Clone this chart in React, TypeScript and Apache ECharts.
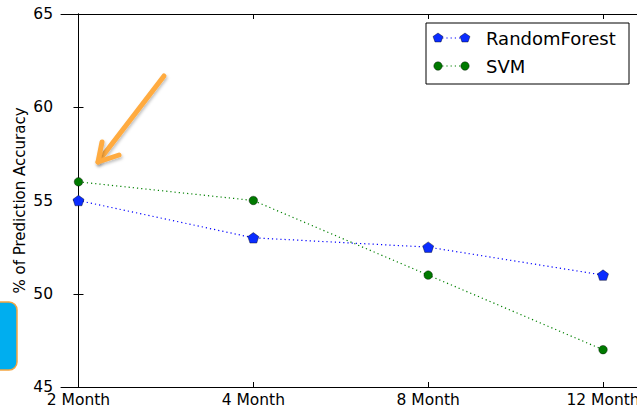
import React, { useEffect, useRef } from "react";
import * as echarts from "echarts";

const categories = ["2 Month", "4 Month", "8 Month", "12 Month"];
const randomForest = [55, 53, 52.5, 51];
const svm = [56, 55, 51, 47];

const FONT = "DejaVu Sans";
const PENT = "path://M0,-1 L0.951,-0.309 L0.588,0.809 L-0.588,0.809 L-0.951,-0.309 Z";

export default function App() {
  const ref = useRef<HTMLDivElement>(null);
  useEffect(() => {
    document.body.style.margin = "0";
    const chart = echarts.init(ref.current!, null, { renderer: "svg" });
    const idx = categories.map((_, i) => i);
    const xCommon = {
      type: "value" as const,
      min: -0.1,
      max: 3.2,
      splitLine: { show: false },
      axisLine: { show: true, lineStyle: { color: "#000", width: 1 } },
      axisTick: { show: true, inside: true, length: 5, customValues: idx, lineStyle: { color: "#000" } },
    };
    const yCommon = {
      type: "value" as const,
      min: 45,
      max: 65,
      interval: 5,
      splitLine: { show: false },
      axisLine: { show: true, lineStyle: { color: "#000", width: 1 } },
      axisTick: { show: true, inside: true, length: 5, lineStyle: { color: "#000" } },
    };
    chart.setOption({
      animation: false,
      backgroundColor: "#fff",
      textStyle: { fontFamily: FONT },
      grid: { left: 61, top: 14, width: 577, height: 373, containLabel: false, outerBoundsMode: "none" },
      xAxis: [
        {
          ...xCommon,
          position: "bottom",
          axisLabel: {
            show: true,
            customValues: idx,
            formatter: (v: number) => categories[Math.round(v)] ?? "",
            color: "#000",
            fontSize: 15.5,
            fontFamily: FONT,
            margin: 5,
          },
        },
        { ...xCommon, position: "top", axisLabel: { show: false } },
      ],
      yAxis: [
        {
          ...yCommon,
          position: "left",
          name: "% of Prediction Accuracy",
          nameLocation: "middle",
          nameGap: 34,
          nameMoveOverlap: false,
          nameRotate: 90,
          nameTextStyle: { color: "#000", fontSize: 15, fontFamily: FONT },
          axisLabel: { color: "#000", fontSize: 15.5, fontFamily: FONT, margin: 8 },
        },
        { ...yCommon, position: "right", axisLabel: { show: false } },
      ],
      series: [
        {
          name: "RandomForest",
          type: "line",
          data: randomForest.map((v, i) => [i, v]),
          symbol: PENT,
          symbolSize: [11, 10.5],
          lineStyle: { color: "#0000ff", width: 1.2, type: [1.2, 3] },
          itemStyle: { color: "#0a2cff", borderColor: "#000", borderWidth: 0.4 },
          z: 3,
        },
        {
          name: "SVM",
          type: "line",
          data: svm.map((v, i) => [i, v]),
          symbol: "circle",
          symbolSize: 8.5,
          lineStyle: { color: "#008000", width: 1.2, type: [1.2, 3] },
          itemStyle: { color: "#007a00", borderColor: "#000", borderWidth: 0.4 },
          z: 3,
        },
      ],
      graphic: [
        {
          type: "rect",
          shape: { x: 426, y: 23, width: 203, height: 61 },
          style: { fill: "#fff", stroke: "#000", lineWidth: 1 },
          z: 10,
        },
        {
          type: "line",
          shape: { x1: 438, y1: 38, x2: 465, y2: 38 },
          style: { stroke: "#0000ff", lineWidth: 1.2, lineDash: [1.2, 3] },
          z: 11,
        },
        {
          type: "polygon",
          shape: { points: [[438, 33], [443, 36.5], [441, 42], [435, 42], [433, 36.5]] },
          style: { fill: "#0a2cff", stroke: "#000", lineWidth: 0.4 },
          z: 12,
        },
        {
          type: "polygon",
          shape: { points: [[465, 33], [470, 36.5], [468, 42], [462, 42], [460, 36.5]] },
          style: { fill: "#0a2cff", stroke: "#000", lineWidth: 0.4 },
          z: 12,
        },
        {
          type: "text",
          style: { text: "RandomForest", x: 486, y: 38, fill: "#000", font: `18px '${FONT}'`, textVerticalAlign: "middle" },
          z: 12,
        },
        {
          type: "line",
          shape: { x1: 438, y1: 66, x2: 465, y2: 66 },
          style: { stroke: "#008000", lineWidth: 1.2, lineDash: [1.2, 3] },
          z: 11,
        },
        { type: "circle", shape: { cx: 438, cy: 66, r: 4.2 }, style: { fill: "#007a00", stroke: "#000", lineWidth: 0.4 }, z: 12 },
        { type: "circle", shape: { cx: 465, cy: 66, r: 4.2 }, style: { fill: "#007a00", stroke: "#000", lineWidth: 0.4 }, z: 12 },
        {
          type: "text",
          style: { text: "SVM", x: 486, y: 66, fill: "#000", font: `18px '${FONT}'`, textVerticalAlign: "middle" },
          z: 12,
        },
        {
          type: "polyline",
          shape: { points: [[164, 76], [98, 162]] },
          style: {
            stroke: "#FFAB40", lineWidth: 5, lineCap: "round", lineJoin: "round", fill: null,
            shadowBlur: 3, shadowColor: "rgba(0,0,0,0.25)", shadowOffsetX: 1, shadowOffsetY: 2,
          },
          z: 20,
        },
        {
          type: "polyline",
          shape: { points: [[102, 142], [98, 162], [119, 155]] },
          style: {
            stroke: "#FFAB40", lineWidth: 5, lineCap: "round", lineJoin: "round", fill: null,
            shadowBlur: 3, shadowColor: "rgba(0,0,0,0.25)", shadowOffsetX: 1, shadowOffsetY: 2,
          },
          z: 20,
        },
        {
          type: "rect",
          shape: { x: -20, y: 302, width: 37, height: 68, r: 8 },
          style: { fill: "#00AEEF", stroke: "#F5A540", lineWidth: 1.5 },
          z: 20,
        },
      ],
    });
    return () => chart.dispose();
  }, []);
  return <div ref={ref} style={{ width: 637, height: 411 }} />;
}
